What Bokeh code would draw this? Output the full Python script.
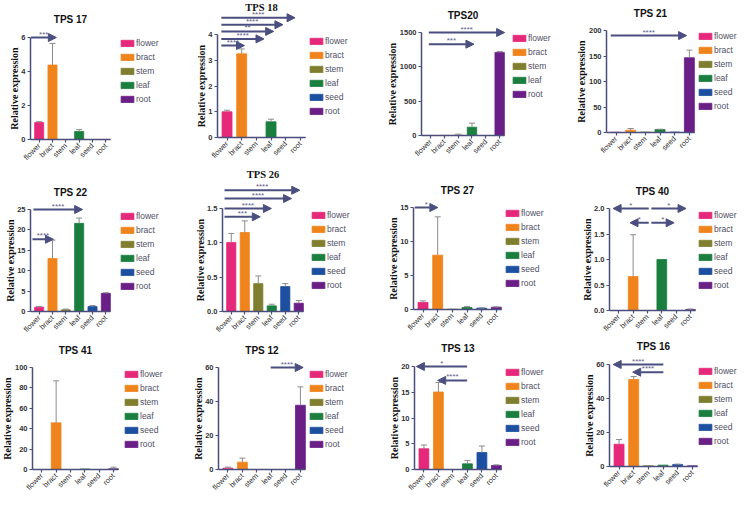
import math
from bokeh.plotting import figure
from bokeh.models import (Range1d, FixedTicker, ColumnDataSource, Whisker, TeeHead,
                          Arrow, NormalHead, Legend, LegendItem, NumeralTickFormatter)
from bokeh.layouts import row, column
from bokeh.embed import file_html
from bokeh.resources import INLINE
from bokeh.core.properties import value

# ---------------- data ----------------
categories = ["flower", "bract", "stem", "leaf", "seed", "root"]
tissue_colors = ["#e5287a", "#f0841c", "#7f7d2e", "#1a7f3e", "#1d4fa0", "#6a1f86"]
y_label = "Relative expression"

tps17_mean = [1.0, 4.38, 0, 0.47, 0, 0]
tps17_sd = [0.05, 1.27, 0, 0.11, 0, 0]
tps17_ticks = [0, 2, 4, 6]
tps17_arrows = [(-0.61, 1.29, 6.0, "***")]
tps17_legend = ["flower", "bract", "stem", "leaf", "root"]

tps18_mean = [1.0, 3.25, 0, 0.61, 0, 0]
tps18_sd = [0.06, 0.19, 0, 0.10, 0, 0]
tps18_ticks = [0, 1, 2, 3, 4]
tps18_arrows = [(-0.39, 1.19, 3.57, "****"), (-0.39, 2.52, 3.83, "****"),
                (-0.39, 3.18, 4.12, "**"), (-0.39, 3.81, 4.38, "****"),
                (-0.39, 4.64, 4.65, "****")]
tps18_legend = categories

tps20_mean = [1, 2, 5, 121, 0, 1210]
tps20_sd = [0, 0, 15, 59, 0, 14]
tps20_ticks = [0, 500, 1000, 1500]
tps20_arrows = [(-0.12, 5.36, 1500, "****"), (-0.12, 3.14, 1330, "***")]
tps20_legend = ["flower", "bract", "stem", "leaf", "root"]

tps21_mean = [0.5, 4.5, 0.8, 5.9, 0.8, 146.6]
tps21_sd = [0, 3.3, 0, 0.5, 0, 14.9]
tps21_ticks = [0, 50, 100, 150, 200]
tps21_arrows = [(-0.36, 4.81, 190, "****")]
tps21_legend = categories

tps22_mean = [1.05, 13.0, 0.4, 21.6, 1.2, 4.45]
tps22_sd = [0.2, 4.5, 0.2, 1.3, 0.25, 0.15]
tps22_ticks = [0, 5, 10, 15, 20, 25]
tps22_arrows = [(-0.43, 3.26, 25, "****"), (-0.5, 1.07, 17.7, "****")]
tps22_legend = categories

tps26_mean = [1.006, 1.151, 0.406, 0.082, 0.363, 0.121]
tps26_sd = [0.131, 0.169, 0.112, 0.024, 0.043, 0.039]
tps26_ticks = [0, 0.5, 1.0, 1.5]
tps26_arrows = [(-0.5, 2.15, 1.379, "***"), (-0.5, 2.97, 1.5, "****"),
                (-0.5, 4.46, 1.645, "****"), (-0.5, 5.07, 1.766, "****")]
tps26_legend = categories

tps27_mean = [1.03, 7.99, 0.05, 0.29, 0.2, 0.34]
tps27_sd = [0.24, 5.64, 0, 0.16, 0.05, 0.05]
tps27_ticks = [0, 5, 10, 15]
tps27_arrows = [(-0.56, 1.01, 15, "*")]
tps27_legend = categories

tps40_mean = [0, 0.665, 0, 1.0, 0, 0.02]
tps40_sd = [0, 0.82, 0, 0, 0, 0.01]
tps40_ticks = [0, 0.5, 1.0, 1.5, 2.0]
tps40_arrows = [(2.09, -0.4, 2.0, "*"), (2.27, 4.69, 2.0, "*"),
                (2.09, 0.78, 1.72, "*"), (2.27, 3.86, 1.72, "*")]
tps40_legend = categories

tps41_mean = [0, 45.75, 0, 0.5, 0, 0.65]
tps41_sd = [0, 41.15, 0, 0, 0, 1.65]
tps41_ticks = [0, 20, 40, 60, 80, 100]
tps41_arrows = []
tps41_legend = categories

tps12_mean = [0.8, 4.3, 0, 0, 0, 37.8]
tps12_sd = [0.6, 2.4, 0, 0, 0, 10.8]
tps12_ticks = [0, 20, 40, 60]
tps12_arrows = [(2.95, 5.19, 60, "****")]
tps12_legend = categories

tps13_mean = [4.04, 15.05, 0, 1.1, 3.3, 0.78]
tps13_sd = [0.72, 1.85, 0, 0.66, 1.26, 0.12]
tps13_ticks = [0, 5, 10, 15, 20]
tps13_arrows = [(2.98, -0.52, 20, "*"), (2.98, 0.95, 17.3, "****")]
tps13_legend = categories

tps16_mean = [13.1, 51.2, 0.4, 0.8, 1.2, 0.4]
tps16_sd = [2.8, 1.7, 0, 0, 0.2, 0]
tps16_ticks = [0, 20, 40, 60]
tps16_arrows = [(3.02, -0.4, 60, "****"), (3.02, 0.93, 55.5, "****")]
tps16_legend = categories

# ---------------- layout / style ----------------
COL_X = [0, 185, 375, 565]
COL_W = [185, 190, 190, 172]
ROW_Y = [0, 166, 338]
ROW_H = [166, 172, 156]
AXC = "#4a4e7a"
ARC = "#4b4f80"
ERC = "#8c8c8c"
X0, X1 = -0.65, 5.35
TICK_FS = 7.5

# col, row, axis_x, x_end, y0, y_top_tick, title_y, legend_c1, legend_x, serif  (picture px)
GEO = {
    "TPS 17": (0, 0, 30, 110, 139, 37, 19, 43, 121, False),
    "TPS 18": (1, 0, 217, 305, 137, 34, 7, 41, 310, True),
    "TPS20": (2, 0, 421, 504, 135, 32, 15, 38, 513, False),
    "TPS 21": (3, 0, 606, 694, 132, 30, 13, 36, 699, False),
    "TPS 22": (0, 1, 30, 110, 311, 209, 192, 216, 121, False),
    "TPS 26": (1, 1, 222, 303, 311, 208, 174, 215, 312, True),
    "TPS 27": (2, 1, 413, 501, 309, 207, 190, 213, 506, False),
    "TPS 40": (3, 1, 609, 695, 310, 208, 191, 215, 699, False),
    "TPS 41": (0, 2, 32, 118, 469, 367, 350, 374, 125, False),
    "TPS 12": (1, 2, 218, 305, 469, 367, 350, 374, 310, False),
    "TPS 13": (2, 2, 414, 501, 469, 366, 348, 372, 506, False),
    "TPS 16": (3, 2, 609, 697, 466, 364, 346, 371, 699, False),
}

panels = [
    ("TPS 17", tps17_mean, tps17_sd, tps17_ticks, tps17_arrows, tps17_legend, None),
    ("TPS 18", tps18_mean, tps18_sd, tps18_ticks, tps18_arrows, tps18_legend, None),
    ("TPS20", tps20_mean, tps20_sd, tps20_ticks, tps20_arrows, tps20_legend, None),
    ("TPS 21", tps21_mean, tps21_sd, tps21_ticks, tps21_arrows, tps21_legend, None),
    ("TPS 22", tps22_mean, tps22_sd, tps22_ticks, tps22_arrows, tps22_legend, None),
    ("TPS 26", tps26_mean, tps26_sd, tps26_ticks, tps26_arrows, tps26_legend, "0.0"),
    ("TPS 27", tps27_mean, tps27_sd, tps27_ticks, tps27_arrows, tps27_legend, None),
    ("TPS 40", tps40_mean, tps40_sd, tps40_ticks, tps40_arrows, tps40_legend, "0.0"),
    ("TPS 41", tps41_mean, tps41_sd, tps41_ticks, tps41_arrows, tps41_legend, None),
    ("TPS 12", tps12_mean, tps12_sd, tps12_ticks, tps12_arrows, tps12_legend, None),
    ("TPS 13", tps13_mean, tps13_sd, tps13_ticks, tps13_arrows, tps13_legend, None),
    ("TPS 16", tps16_mean, tps16_sd, tps16_ticks, tps16_arrows, tps16_legend, None),
]


def label_width(txt):
    return sum((0.556 if ch.isdigit() else 0.278) * TICK_FS for ch in txt)


def make_panel(name, mean, sd, ticks, arrows, legend_cats, fmt):
    col, r, ax_x, x_end, y0, ytop, ty, lc1, lx, serif = GEO[name]
    cx, cw, ry, rh = COL_X[col], COL_W[col], ROW_Y[r], ROW_H[r]
    u = (x_end - ax_x) / (X1 - X0)          # px per category unit
    s = (y0 - ytop) / ticks[-1]              # px per data unit
    p = figure(width=cw, height=rh,
               x_range=Range1d(X0 - (ax_x - cx) / u, X0 + (cx + cw - ax_x) / u),
               y_range=Range1d(-(ry + rh - y0) / s, (y0 - ry) / s),
               output_backend="svg", toolbar_location=None,
               min_border_left=0, min_border_right=0,
               min_border_top=0, min_border_bottom=0)
    p.outline_line_color = None
    p.grid.visible = False
    p.background_fill_color = "white"
    p.border_fill_color = "white"

    # panel title
    p.text(x=[(X0 + X1) / 2], y=[(y0 - ty) / s], text=[name], text_align="center",
           text_baseline="middle", text_font_style="bold",
           text_font_size="10.5px" if serif else "10px", text_color="#111111",
           text_font=value("Liberation Serif" if serif else "Liberation Sans"))

    # bars
    items = []
    for i, c in enumerate(categories):
        src = ColumnDataSource(dict(x=[i], top=[mean[i]]))
        rr = p.vbar(x="x", top="top", bottom=0, width=0.68, source=src,
                    fill_color=tissue_colors[i], line_color=tissue_colors[i], line_width=0.8)
        if c in legend_cats:
            items.append(LegendItem(label=c, renderers=[rr]))

    # error bars (upper SD)
    idx = [i for i in range(len(categories)) if sd[i] > 0]
    if idx:
        wsrc = ColumnDataSource(dict(x=idx, lo=[mean[i] for i in idx],
                                     hi=[mean[i] + sd[i] for i in idx]))
        p.add_layout(Whisker(source=wsrc, base="x", lower="lo", upper="hi", dimension="height",
                             line_color=ERC, line_width=1, lower_head=None,
                             upper_head=TeeHead(size=6, line_color=ERC, line_width=1),
                             level="annotation"))

    # significance arrows
    for (xs, xe, yl, lab) in arrows:
        p.add_layout(Arrow(x_start=xs, y_start=yl, x_end=xe, y_end=yl,
                           line_color=ARC, line_width=2,
                           end=NormalHead(size=8, fill_color=ARC, line_color=ARC, line_width=1)))
    if arrows:
        tsrc = ColumnDataSource(dict(x=[(a[0] + a[1]) / 2 for a in arrows],
                                     y=[a[2] for a in arrows], t=[a[3] for a in arrows]))
        p.text(x="x", y="y", text="t", source=tsrc, text_align="center",
               text_baseline="bottom", text_font_size="8px", text_color="#5d6088",
               y_offset=1, text_font=value("Liberation Sans"))

    # axes (fixed inside the frame)
    for ax in (p.xaxis[0], p.yaxis[0]):
        ax.axis_line_color = AXC
        ax.axis_line_width = 1.5
        ax.major_tick_line_color = AXC
        ax.major_tick_line_width = 1.2
        ax.major_tick_out = 3
        ax.major_tick_in = 0
        ax.minor_tick_line_color = None
        ax.major_label_text_font = "Liberation Sans"
        ax.major_label_text_color = "#333333"
        ax.major_label_standoff = 2

    p.xaxis.fixed_location = 0
    p.xaxis.ticker = FixedTicker(ticks=list(range(len(categories))))
    p.xaxis.major_label_overrides = {i: c for i, c in enumerate(categories)}
    p.xaxis.major_label_orientation = math.pi / 4
    p.xaxis.major_label_text_font_size = "7.5px"
    p.xaxis.bounds = (X0, X1)

    p.yaxis.fixed_location = X0
    p.yaxis.ticker = FixedTicker(ticks=ticks)
    p.yaxis.bounds = (0, ticks[-1])
    p.yaxis.major_label_text_font_size = "%spx" % TICK_FS
    p.yaxis.major_label_text_font_style = "bold"
    if fmt:
        p.yaxis.formatter = NumeralTickFormatter(format=fmt)
        tick_txt = ["%.1f" % t for t in ticks]
    else:
        tick_txt = ["%d" % t for t in ticks]

    # y-axis title, placed beside the tick labels
    wmax = max(label_width(t) for t in tick_txt)
    lab_x = X0 - (3 + 2 + wmax + 2 + 5) / u
    p.text(x=[lab_x], y=[ticks[-1] / 2], text=[y_label], angle=math.pi / 2,
           text_align="center", text_baseline="middle", text_font_style="bold",
           text_font_size="10px", text_color="#111111",
           text_font=value("Liberation Serif"))

    # legend
    n = len(items)
    H = n * 11 + (n - 1) * 3
    ly = (ry + rh) - (lc1 - 5.5) - H
    leg = Legend(items=items, location=(lx - 2 - cx, ly), orientation="vertical",
                 glyph_width=16, glyph_height=8, label_height=11, spacing=3,
                 padding=0, margin=0, border_line_color=None, background_fill_alpha=0,
                 label_text_font_size="8.5px", label_text_color="#505064",
                 label_standoff=1, label_text_font="Liberation Sans")
    p.add_layout(leg)
    return p


figs = [make_panel(*pn) for pn in panels]
layout = column(row(*figs[0:4]), row(*figs[4:8]), row(*figs[8:12]))
open("out.html", "w").write(file_html(layout, INLINE))
